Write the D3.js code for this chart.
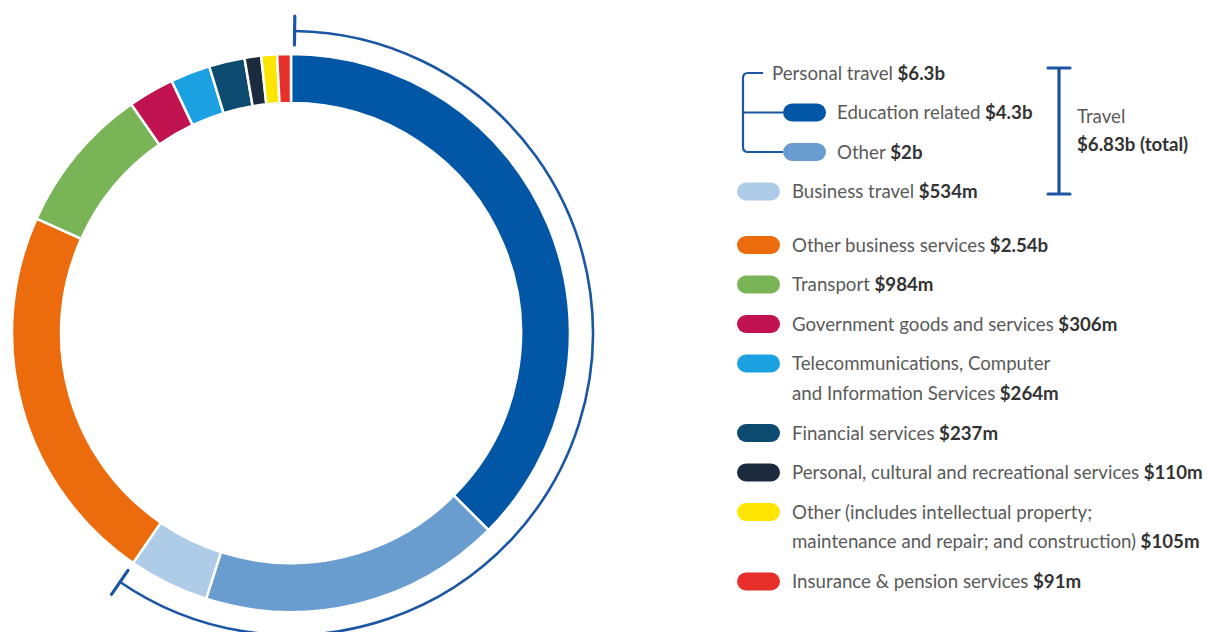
<!DOCTYPE html>
<html>
<head>
<meta charset="utf-8">
<script src="https://cdn.jsdelivr.net/npm/d3@7"></script>
<style>
  body { margin: 0; background: #fff; }
  svg { display: block; }
  .lbl { font-family: Lato, "Open Sans", sans-serif; fill: #5a5a5a; font-size: 19px; }
  .lbl .v { font-weight: bold; fill: #333; }
</style>
</head>
<body>
<svg id="chart" width="1208" height="632"></svg>
<script>
// segments clockwise from 12 o'clock, values in $ billions
var segNames = ["Education related", "Other", "Business travel", "Other business services",
  "Transport", "Government goods and services", "Telecommunications, Computer and Information Services",
  "Financial services", "Personal, cultural and recreational services", "Other (misc)",
  "Insurance & pension services"];
var segValues = [4.3, 2.0, 0.534, 2.54, 0.984, 0.306, 0.264, 0.237, 0.110, 0.105, 0.091];
var segColors = ["#0256a6", "#6a9dcf", "#aecbe7", "#ec6b0c", "#79b457", "#c0134f",
  "#1ba0e2", "#0c4a70", "#1c2a3d", "#ffe500", "#e62f2a"];
var travelCount = 3; // first three segments make up Travel

// legend rows
var legendLabels = [
  ["Personal travel"],
  ["Education related"],
  ["Other"],
  ["Business travel"],
  ["Other business services"],
  ["Transport"],
  ["Government goods and services"],
  ["Telecommunications, Computer", "and Information Services"],
  ["Financial services"],
  ["Personal, cultural and recreational services"],
  ["Other (includes intellectual property;", "maintenance and repair; and construction)"],
  ["Insurance & pension services"]
];
var legendValues = ["$6.3b", "$4.3b", "$2b", "$534m", "$2.54b", "$984m", "$306m",
  "$264m", "$237m", "$110m", "$105m", "$91m"];
var legendColor = [null, 0, 1, 2, 3, 4, 5, 6, 7, 8, 9, 10];
var legendIndent = [1, 2, 2, 0, 0, 0, 0, 0, 0, 0, 0, 0];

var svg = d3.select("#chart");
var cx = 291, cy = 333, rOuter = 279, rInner = 230;
var blue = "#1a56a3";

var pie = d3.pie().sort(null).value(function(d) { return d; });
var arcs = pie(segValues);
var arc = d3.arc().innerRadius(rInner).outerRadius(rOuter);

var g = svg.append("g").attr("transform", "translate(" + cx + "," + cy + ")");
g.selectAll("path.seg")
  .data(arcs)
  .enter()
  .append("path")
  .attr("class", "seg")
  .attr("d", arc)
  .attr("fill", function(d, i) { return segColors[i]; })
  .attr("stroke", "#fff")
  .attr("stroke-width", 2.5);

// travel bracket round the ring
var travelEnd = arcs[travelCount - 1].endAngle;
var rBr = 302;
g.append("path")
  .attr("d", d3.arc().innerRadius(rBr).outerRadius(rBr).startAngle(0.012).endAngle(travelEnd)())
  .attr("fill", "none")
  .attr("stroke", blue)
  .attr("stroke-width", 2.6);
[0.012, travelEnd].forEach(function(a) {
  var s = Math.sin(a), c = -Math.cos(a);
  g.append("line")
    .attr("x1", s * (rBr - 14)).attr("y1", c * (rBr - 14))
    .attr("x2", s * (rBr + 15)).attr("y2", c * (rBr + 15))
    .attr("stroke", blue).attr("stroke-width", 3.2).attr("stroke-linecap", "round");
});

// legend
var lx = 737, pillW = 43, pillH = 18, step = 39.5, lineGap = 30;
var ys = [], y = 73;
legendLabels.forEach(function(lines, i) {
  if (i === 4) y += 14;
  ys.push(y);
  y += step + (lines.length - 1) * lineGap;
});

var leg = svg.append("g");
var texts = [];
legendLabels.forEach(function(lines, i) {
  var ind = legendIndent[i];
  var px = ind === 2 ? 783 : lx;
  var tx = ind === 1 ? 772 : (ind === 2 ? 837 : 792);
  if (legendColor[i] !== null) {
    leg.append("rect")
      .attr("x", px).attr("y", ys[i] - pillH / 2)
      .attr("width", pillW).attr("height", pillH)
      .attr("rx", pillH / 2)
      .attr("fill", segColors[legendColor[i]]);
  }
  var t = leg.append("text").attr("class", "lbl")
    .attr("data-x", tx).attr("data-y", ys[i] + 6.5);
  lines.forEach(function(line, j) {
    t.append("tspan").attr("x", 0).attr("dy", j === 0 ? 0 : lineGap).text(line);
    if (j === lines.length - 1) {
      t.append("tspan").attr("class", "v").text(" " + legendValues[i]);
    }
  });
  texts.push(t);
});

// travel total bracket
var tbx = 1059, ty0 = 68, ty1 = 194;
leg.append("path")
  .attr("d", "M" + tbx + "," + ty0 + " V" + ty1 + " M" + (tbx - 11) + "," + ty0 + " H" + (tbx + 11) +
    " M" + (tbx - 11) + "," + ty1 + " H" + (tbx + 11))
  .attr("fill", "none").attr("stroke", blue).attr("stroke-width", 3.2).attr("stroke-linecap", "round");
texts.push(leg.append("text").attr("class", "lbl").attr("data-x", 1077).attr("data-y", 123).text("Travel"));
var tt = leg.append("text").attr("class", "lbl").attr("data-x", 1077).attr("data-y", 151);
tt.append("tspan").attr("class", "v").text("$6.83b (total)");
texts.push(tt);

// squeeze text horizontally so the longest row fits as in the source
var longest = texts[9].node().getComputedTextLength();
var k = Math.min(1, 411 / longest);
texts.forEach(function(t) {
  t.attr("transform", "translate(" + t.attr("data-x") + "," + t.attr("data-y") + ") scale(" + k + ",1)");
});

// personal travel connector
var bx = 743;
leg.append("path")
  .attr("d", "M" + 763 + "," + ys[0] + " H" + (bx + 5) + " Q" + bx + "," + ys[0] + " " + bx + "," + (ys[0] + 5) +
    " V" + (ys[2] - 5) + " Q" + bx + "," + ys[2] + " " + (bx + 5) + "," + ys[2] + " H783" +
    " M" + bx + "," + ys[1] + " H783")
  .attr("fill", "none").attr("stroke", blue).attr("stroke-width", 2.2);
</script>
</body>
</html>
